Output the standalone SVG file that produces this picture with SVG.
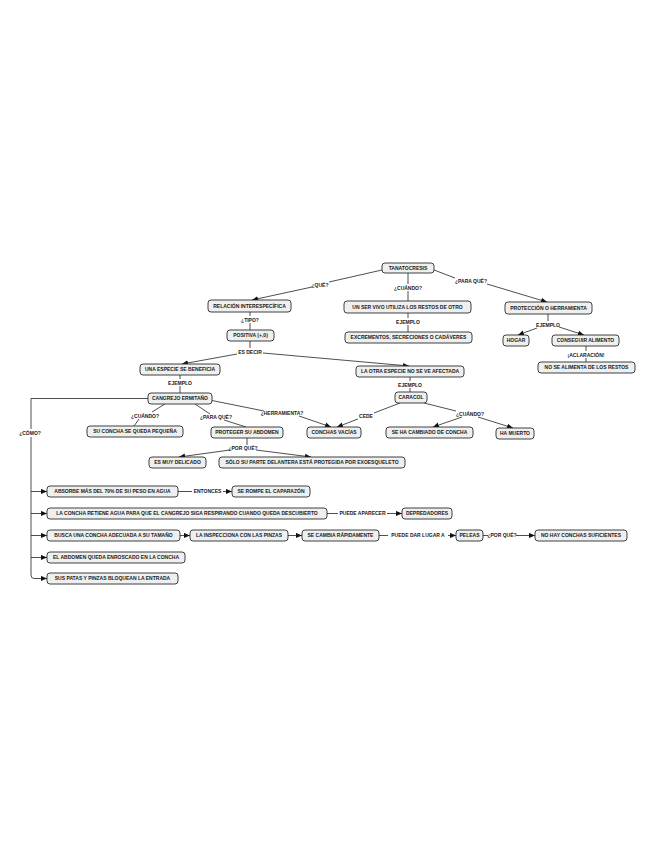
<svg xmlns="http://www.w3.org/2000/svg" width="655" height="848" viewBox="0 0 655 848">
<defs>
<style>
.bx{fill:#eef0f0;stroke:#2b2b2b;stroke-width:0.9}
.t{font-family:"Liberation Sans",Arial,sans-serif;font-size:5px;font-weight:bold;fill:#1a1a1a;text-anchor:middle}
.b{font-weight:bold}
.ln{fill:none;stroke:#222;stroke-width:0.8}
.ar{marker-end:url(#ah)}
</style>
<marker id="ah" viewBox="0 0 6 6" refX="6" refY="3" markerWidth="6" markerHeight="6" markerUnits="userSpaceOnUse" orient="auto">
<path d="M0,0.4 L6,3 L0,5.6 z" fill="#111"/>
</marker>
</defs>
<rect width="655" height="848" fill="#fff"/>

<g id="connectors">
<path class="ln" d="M382,270 L329,282"/><path class="ln ar" d="M312,287 L252,300"/>
<path class="ln" d="M408,273 L408,284"/><path class="ln" d="M408,291 L408,301"/>
<path class="ln" d="M434,270 L455,278"/><path class="ln ar" d="M487,284 L547,302"/>
<path class="ln" d="M250,312 L250,316"/><path class="ln" d="M250,323 L250,330"/>
<path class="ln" d="M408,313 L408,318"/><path class="ln" d="M408,325 L408,332"/>
<path class="ln" d="M548,314 L548,321"/><path class="ln ar" d="M537,328 L518,335"/><path class="ln ar" d="M559,327 L584,335"/>
<path class="ln" d="M586,346 L586,351"/><path class="ln" d="M586,358 L586,362"/>
<path class="ln" d="M250,341 L250,348"/><path class="ln ar" d="M237,354 L182,364"/><path class="ln ar" d="M263,353 L409,366"/>
<path class="ln" d="M180,375 L180,379"/><path class="ln" d="M180,386 L180,393"/>
<path class="ln" d="M410,377 L410,381"/><path class="ln" d="M410,388 L410,392"/>
<path class="ln" d="M148,398.5 L31,398.5 L31,429"/><path class="ln" d="M31,437 L31,575 Q31,578.5 34,578.5"/>
<path class="ln ar" d="M31,491.5 L47,491.5"/><path class="ln ar" d="M31,513.5 L47,513.5"/><path class="ln ar" d="M31,535.5 L47,535.5"/><path class="ln ar" d="M31,557.5 L47,557.5"/><path class="ln ar" d="M34,578.5 L47,578.5"/>
<path class="ln" d="M165,404 L152,412"/><path class="ln" d="M139,419 L134,426"/>
<path class="ln" d="M195,404 L210,414"/><path class="ln" d="M224,420 L246,427"/>
<path class="ln" d="M212,400.5 L264,411"/><path class="ln ar" d="M299,416 L331,427"/>
<path class="ln" d="M400,403 L374,413"/><path class="ln ar" d="M358,419 L337,427"/>
<path class="ln" d="M424,403 L456,411"/><path class="ln ar" d="M462,417 L433,427"/><path class="ln ar" d="M478,417 L513,428"/>
<path class="ln" d="M247,438 L247,445"/><path class="ln ar" d="M230,450 L179,457"/><path class="ln ar" d="M256,450 L311,457"/>
<path class="ln" d="M178,491.5 L192,491.5"/><path class="ln ar" d="M223,491.5 L232,491.5"/>
<path class="ln" d="M327,513.5 L338,513.5"/><path class="ln ar" d="M387,513.5 L402,513.5"/>
<path class="ln ar" d="M180,535.5 L190,535.5"/>
<path class="ln ar" d="M288,535.5 L302,535.5"/>
<path class="ln" d="M379,535.5 L388,535.5"/><path class="ln ar" d="M448,535.5 L456,535.5"/>
<path class="ln" d="M483,535.5 L488,535.5"/><path class="ln ar" d="M516,535.5 L535,535.5"/>
</g>

<g id="link-labels">
<text class="t" x="320" y="287">¿QUÉ?</text>
<text class="t" x="408" y="289.5">¿CUÁNDO?</text>
<text class="t" x="471" y="282.5">¿PARA QUÉ?</text>
<text class="t" x="250" y="321.5">¿TIPO?</text>
<text class="t" x="408" y="323.5">EJEMPLO</text>
<text class="t" x="548" y="326.5">EJEMPLO</text>
<text class="t" x="586" y="356.5">¡ACLARACIÓN!</text>
<text class="t" x="250" y="353.5">ES DECIR</text>
<text class="t" x="180" y="384.5">EJEMPLO</text>
<text class="t" x="410" y="386.5">EJEMPLO</text>
<text class="t" x="30" y="434.5">¿CÓMO?</text>
<text class="t" x="145" y="417.5">¿CUÁNDO?</text>
<text class="t" x="216" y="418.5">¿PARA QUÉ?</text>
<text class="t" x="282" y="415">¿HERRAMIENTA?</text>
<text class="t" x="366" y="417.5">CEDE</text>
<text class="t" x="470" y="415.5">¿CUÁNDO?</text>
<text class="t" x="243" y="449.5">¿POR QUÉ?</text>
<text class="t" x="207.5" y="493">ENTONCES</text>
<text class="t" x="362.5" y="515">PUEDE APARECER</text>
<text class="t" x="418" y="537">PUEDE DAR LUGAR A</text>
<text class="t" x="502" y="537">¿POR QUÉ?</text>
</g>

<g id="n_tanatocresis"><rect class="bx" x="382" y="263" width="52" height="10" rx="3"/><text class="t b" x="408" y="269.7">TANATOCRESIS</text></g>
<g id="n_relacion"><rect class="bx" x="208" y="300" width="83" height="12" rx="3"/><text class="t" x="249.5" y="307.7">RELACIÓN INTERESPECÍFICA</text></g>
<g id="n_positiva"><rect class="bx" x="227" y="330" width="47" height="11" rx="3"/><text class="t" x="250.5" y="337.2">POSITIVA (+,0)</text></g>
<g id="n_unser"><rect class="bx" x="344" y="301" width="127" height="12" rx="3"/><text class="t" x="407.5" y="308.7">UN SER VIVO UTILIZA LOS RESTOS DE OTRO</text></g>
<g id="n_excrementos"><rect class="bx" x="345" y="332" width="127" height="11" rx="3"/><text class="t" x="408.5" y="339.2">EXCREMENTOS, SECRECIONES O CADÁVERES</text></g>
<g id="n_proteccion"><rect class="bx" x="505" y="302" width="87" height="12" rx="3"/><text class="t" x="548.5" y="309.7">PROTECCIÓN O HERRAMIENTA</text></g>
<g id="n_hogar"><rect class="bx" x="503" y="335" width="26" height="11" rx="3"/><text class="t" x="516" y="342.2">HOGAR</text></g>
<g id="n_conseguir"><rect class="bx" x="552" y="335" width="67" height="11" rx="3"/><text class="t" x="585.5" y="342.2">CONSEGUIR ALIMENTO</text></g>
<g id="n_noalimenta"><rect class="bx" x="538" y="362" width="97" height="11" rx="3"/><text class="t" x="586.5" y="369.2">NO SE ALIMENTA DE LOS RESTOS</text></g>
<g id="n_unaespecie"><rect class="bx" x="140" y="364" width="80" height="11" rx="3"/><text class="t" x="180" y="371.2">UNA ESPECIE SE BENEFICIA</text></g>
<g id="n_otraespecie"><rect class="bx" x="356" y="366" width="108" height="11" rx="3"/><text class="t" x="410" y="373.2">LA OTRA ESPECIE NO SE VE AFECTADA</text></g>
<g id="n_cangrejo"><rect class="bx" x="148" y="393" width="64" height="11" rx="3"/><text class="t" x="180" y="400.2">CANGREJO ERMITAÑO</text></g>
<g id="n_caracol"><rect class="bx" x="395" y="392" width="32" height="11" rx="3"/><text class="t" x="411" y="399.2">CARACOL</text></g>
<g id="n_suconcha"><rect class="bx" x="87" y="426" width="96" height="11" rx="3"/><text class="t" x="135" y="433.2">SU CONCHA SE QUEDA PEQUEÑA</text></g>
<g id="n_proteger"><rect class="bx" x="211" y="427" width="72" height="11" rx="3"/><text class="t" x="247" y="434.2">PROTEGER SU ABDOMEN</text></g>
<g id="n_conchasvacias"><rect class="bx" x="307" y="427" width="54" height="11" rx="3"/><text class="t" x="334" y="434.2">CONCHAS VACÍAS</text></g>
<g id="n_cambiado"><rect class="bx" x="386" y="427" width="87" height="11" rx="3"/><text class="t" x="429.5" y="434.2">SE HA CAMBIADO DE CONCHA</text></g>
<g id="n_muerto"><rect class="bx" x="496" y="428" width="38" height="11" rx="3"/><text class="t" x="515" y="435.2">HA MUERTO</text></g>
<g id="n_delicado"><rect class="bx" x="149" y="457" width="57" height="11" rx="3"/><text class="t" x="177.5" y="464.2">ES MUY DELICADO</text></g>
<g id="n_solo"><rect class="bx" x="219" y="457" width="186" height="11" rx="3"/><text class="t" x="312" y="464.2">SÓLO SU PARTE DELANTERA ESTÁ PROTEGIDA POR EXOESQUELETO</text></g>
<g id="n_absorbe"><rect class="bx" x="47" y="486" width="131" height="11" rx="3"/><text class="t" x="112.5" y="493.2">ABSORBE MÁS DEL 70% DE SU PESO EN AGUA</text></g>
<g id="n_rompe"><rect class="bx" x="232" y="486" width="78" height="11" rx="3"/><text class="t" x="271" y="493.2">SE ROMPE EL CAPARAZÓN</text></g>
<g id="n_retiene"><rect class="bx" x="47" y="508" width="280" height="11" rx="3"/><text class="t" x="187" y="515.2">LA CONCHA RETIENE AGUA PARA QUE EL CANGREJO SIGA RESPIRANDO CUANDO QUEDA DESCUBIERTO</text></g>
<g id="n_depredadores"><rect class="bx" x="402" y="508" width="50" height="11" rx="3"/><text class="t" x="427" y="515.2">DEPREDADORES</text></g>
<g id="n_busca"><rect class="bx" x="47" y="530" width="133" height="11" rx="3"/><text class="t" x="113.5" y="537.2">BUSCA UNA CONCHA ADECUADA A SU TAMAÑO</text></g>
<g id="n_inspecciona"><rect class="bx" x="190" y="530" width="98" height="11" rx="3"/><text class="t" x="239" y="537.2">LA INSPECCIONA CON LAS PINZAS</text></g>
<g id="n_cambia"><rect class="bx" x="302" y="530" width="77" height="11" rx="3"/><text class="t" x="340.5" y="537.2">SE CAMBIA RÁPIDAMENTE</text></g>
<g id="n_peleas"><rect class="bx" x="456" y="530" width="27" height="11" rx="3"/><text class="t" x="469.5" y="537.2">PELEAS</text></g>
<g id="n_nohay"><rect class="bx" x="535" y="530" width="92" height="11" rx="3"/><text class="t" x="581" y="537.2">NO HAY CONCHAS SUFICIENTES</text></g>
<g id="n_enroscado"><rect class="bx" x="47" y="552" width="138" height="11" rx="3"/><text class="t" x="116" y="559.2">EL ABDOMEN QUEDA ENROSCADO EN LA CONCHA</text></g>
<g id="n_patas"><rect class="bx" x="47" y="573" width="131" height="11" rx="3"/><text class="t" x="112.5" y="580.2">SUS PATAS Y PINZAS BLOQUEAN LA ENTRADA</text></g>
</svg>
